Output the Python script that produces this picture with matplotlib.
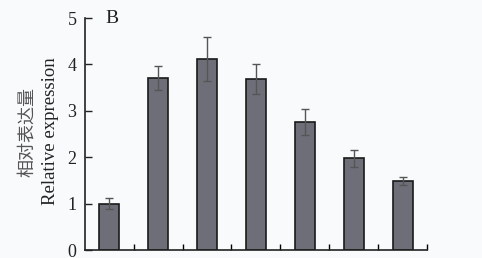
import matplotlib.pyplot as plt
import numpy as np

# Relative expression values (panel B)
groups = ["1", "2", "3", "4", "5", "6", "7"]
expression = [1.00, 3.71, 4.12, 3.68, 2.76, 1.98, 1.49]
errors = [0.12, 0.26, 0.47, 0.32, 0.28, 0.18, 0.09]
y_ticks = [0, 1, 2, 3, 4, 5]

plt.rcParams['font.family'] = ['Liberation Serif', 'Noto Sans CJK SC']

fig = plt.figure(figsize=(4.82, 2.58), dpi=100, facecolor='#f9fafc')
ax = fig.add_axes([0.176, 0.031, 0.710, 0.899])
ax.set_facecolor('#f9fafc')

x = np.arange(len(groups))
ax.bar(x, expression, width=0.41, color='#6d6e78', edgecolor='#1a1a1a', linewidth=1.2,
       yerr=errors, error_kw=dict(ecolor='#555555', elinewidth=1.0, capsize=3, capthick=1.0))

ax.set_xlim(-0.5, len(groups) - 0.5)
ax.set_ylim(0, 5)
ax.set_yticks(y_ticks)
ax.set_xticks(x[:-1] + 0.5)
ax.set_xticks([len(groups) - 0.5], minor=True)
ax.set_xticklabels([])
ax.tick_params(axis='y', direction='in', length=5, width=1, labelsize=13, pad=6, colors='#222222')
ax.tick_params(axis='x', which='both', direction='in', length=4, width=1)

for s in ['top', 'right']:
    ax.spines[s].set_visible(False)
for s in ['left', 'bottom']:
    ax.spines[s].set_linewidth(1.2)
    ax.spines[s].set_color('#222222')

fig.text(0.104, 0.49, "Relative expression", rotation=90, ha='center', va='center',
         fontsize=13.5, color='#222222')
fig.text(0.056, 0.49, "相对表达量", rotation=90, ha='center', va='center',
         fontsize=13, color='#555555', family=['Noto Sans CJK SC', 'DejaVu Sans'])
ax.text(0.08, 1.0, "B", transform=ax.transAxes, ha='center', va='center', fontsize=14,
        color='#222222')

fig.savefig("out.png", dpi=100, facecolor=fig.get_facecolor())
